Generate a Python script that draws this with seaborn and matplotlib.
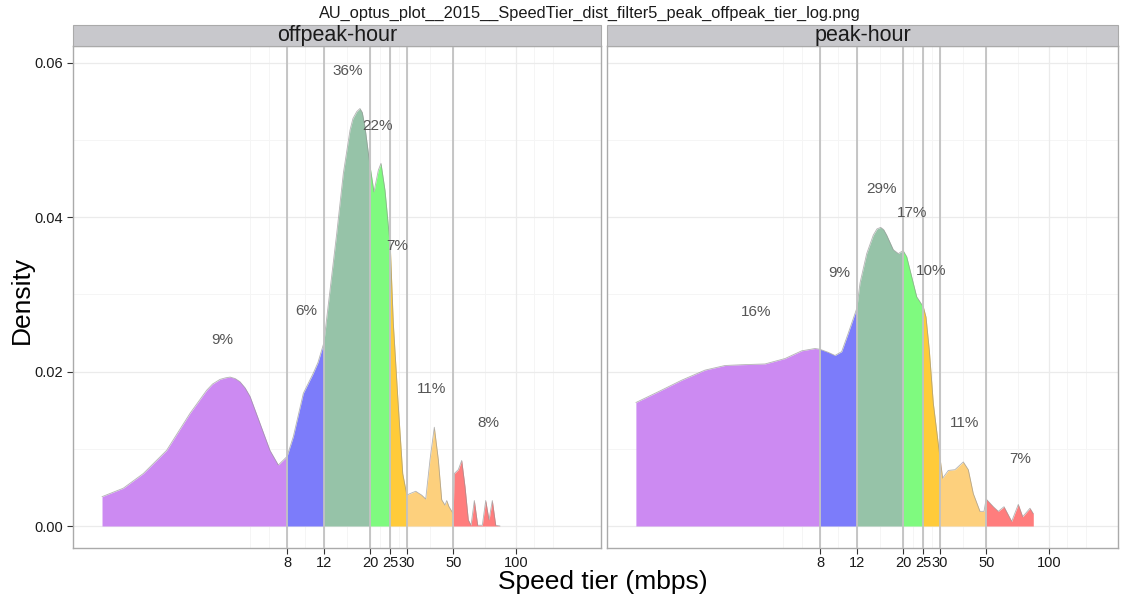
import numpy as np
import pandas as pd
import seaborn as sns
import matplotlib
matplotlib.use("Agg")
import matplotlib.pyplot as plt
from matplotlib.patches import Rectangle
from matplotlib.ticker import NullLocator, FixedLocator, FixedFormatter

# ---- data -------------------------------------------------------------
facets = ["offpeak-hour", "peak-hour"]
tier_edges = [8, 12, 20, 25, 30, 50]
tier_colors = ["#CC8AF2", "#7C7CFA", "#96C3A8", "#7FFA7F",
               "#FFCB3A", "#FDD07D", "#FF7D7D"]
tick_values = [8, 12, 20, 25, 30, 50, 100]
tick_labels = ["8", "12", "20", "25", "30", "50", "100"]

offpeak_speed = [1.04, 1.315, 1.64, 2.12, 2.745, 3.30, 3.52, 3.82, 4.06, 4.27,
                 4.52, 4.76, 5.04, 5.32, 5.94, 6.63, 7.27, 8.0, 8.58, 9.58,
                 10.69, 11.26, 12.0, 12.86, 13.84, 14.89, 16.03, 16.55, 17.26,
                 17.89, 18.35, 18.91, 20.0, 20.88, 21.90, 22.56, 23.58, 25.0,
                 25.84, 27.31, 28.67, 30.0, 31.07, 33.08, 35.34, 36.94, 38.73,
                 40.62, 42.45, 44.07, 45.70, 46.57, 47.76, 50.0, 50.64, 52.92,
                 54.95, 56.99, 59.10, 60.88, 63.15, 65.55, 68.97, 71.60, 74.26,
                 77.01, 79.96, 83.84]
offpeak_density = [0.0038, 0.0049, 0.0068, 0.0098, 0.0146, 0.0176, 0.0184,
                   0.0190, 0.0192, 0.0193, 0.0191, 0.0187, 0.0179, 0.0168,
                   0.0133, 0.0098, 0.0079, 0.0090, 0.0116, 0.0172, 0.0198,
                   0.0212, 0.0237, 0.0306, 0.0379, 0.0457, 0.0513, 0.0528,
                   0.0537, 0.0541, 0.0536, 0.0517, 0.0466, 0.0433, 0.0461,
                   0.0470, 0.0435, 0.0362, 0.0263, 0.0155, 0.0068, 0.0040,
                   0.0042, 0.0045, 0.0040, 0.0035, 0.0086, 0.0128, 0.0086,
                   0.0034, 0.0027, 0.0033, 0.0025, 0.0016, 0.0068, 0.0073,
                   0.0085, 0.0051, 0.0008, 0.0001, 0.0033, 0.0001, 0.0001,
                   0.0033, 0.0008, 0.0033, 0.0001, 0.0]

peak_speed = [1.05, 1.345, 1.741, 2.25, 2.806, 3.375, 4.363, 5.438, 6.537,
              7.571, 8.0, 8.767, 9.44, 10.16, 10.93, 12.0, 12.44, 13.39, 14.40,
              15.0, 15.62, 16.15, 16.69, 17.96, 18.98, 20.0, 20.82, 22.00,
              23.25, 25.0, 25.75, 26.71, 27.92, 30.0, 30.96, 32.93, 35.45,
              38.86, 41.06, 43.39, 46.71, 48.82, 50.0, 54.11, 57.17, 60.88,
              66.27, 71.27, 74.82, 81.08, 84.09]
peak_density = [0.0160, 0.0174, 0.0189, 0.0202, 0.0208, 0.0209, 0.0210,
                0.0217, 0.0227, 0.0230, 0.0229, 0.0225, 0.0221, 0.0226,
                0.0250, 0.0282, 0.0315, 0.0353, 0.0377, 0.0385, 0.0387,
                0.0384, 0.0377, 0.0358, 0.0353, 0.0357, 0.0349, 0.0323,
                0.0297, 0.0284, 0.0271, 0.0228, 0.0159, 0.0090, 0.0062,
                0.0072, 0.0073, 0.0083, 0.0073, 0.0042, 0.0019, 0.0019,
                0.0035, 0.0025, 0.0019, 0.0025, 0.0006, 0.0028, 0.0012,
                0.0023, 0.0016]

offpeak_share = [9, 6, 36, 22, 7, 11, 8]
offpeak_label_x = [3.91, 9.86, 15.7, 21.8, 26.9, 39.6, 73.4]
offpeak_label_y = [0.0241, 0.0279, 0.0590, 0.0518, 0.0363, 0.0178, 0.0133]

peak_share = [16, 9, 29, 17, 10, 11, 7]
peak_label_x = [3.95, 9.86, 15.7, 22.1, 27.2, 39.2, 72.6]
peak_label_y = [0.0277, 0.0328, 0.0437, 0.0406, 0.0330, 0.0133, 0.0087]

title = "AU_optus_plot__2015__SpeedTier_dist_filter5_peak_offpeak_tier_log.png"

df = pd.concat([
    pd.DataFrame({"period": facets[0], "speed": offpeak_speed, "density": offpeak_density}),
    pd.DataFrame({"period": facets[1], "speed": peak_speed, "density": peak_density}),
], ignore_index=True)
labels = {
    facets[0]: (offpeak_share, offpeak_label_x, offpeak_label_y),
    facets[1]: (peak_share, peak_label_x, peak_label_y),
}

# ---- style ------------------------------------------------------------
sns.set_theme(style="white")
plt.rcParams["font.family"] = ["Liberation Sans", "DejaVu Sans"]

W, H = 1124, 600
fig = plt.figure(figsize=(W / 100, H / 100), dpi=100)

# panel geometry in pixels: (left, right), shared top/bottom
panel_px = {facets[0]: (73, 601), facets[1]: (607, 1118)}
tick8_px = {facets[0]: 287, facets[1]: 820}
px_per_decade = 208.77
top_px, bot_px, strip_top_px = 46, 548, 25
y_zero_px, px_per_unit = 526, 7716.7

grid_major = "#EBEBEB"
grid_minor = "#F5F5F5"

# minor break positions between the major ticks, in log space
lb = np.log10(tick_values)
bd = lb[1] - lb[0]
ext = np.concatenate([[lb[0] - bd], lb, [lb[-1] + bd]])
minor_log = np.concatenate([(ext[:-1] + ext[1:]) / 2, ext])

bounds = [0] + tier_edges + [1e6]

for i, name in enumerate(facets):
    l, r = panel_px[name]
    ax = fig.add_axes([l / W, 1 - bot_px / H, (r - l) / W, (bot_px - top_px) / H])
    ax.set_xscale("log")
    x0 = 10 ** (np.log10(8) + (l - tick8_px[name]) / px_per_decade)
    x1 = 10 ** (np.log10(8) + (r - tick8_px[name]) / px_per_decade)
    ax.set_xlim(x0, x1)
    ax.set_ylim((y_zero_px - bot_px) / px_per_unit, (y_zero_px - top_px) / px_per_unit)

    # grid
    for v in 10 ** minor_log:
        ax.axvline(v, color=grid_minor, lw=0.7, zorder=0.4)
    for v in tick_values:
        ax.axvline(v, color=grid_major, lw=0.9, zorder=0.5)
    for v in [0.01, 0.03, 0.05]:
        ax.axhline(v, color=grid_minor, lw=0.7, zorder=0.4)
    for v in [0.0, 0.02, 0.04, 0.06]:
        ax.axhline(v, color=grid_major, lw=0.9, zorder=0.5)

    sub = df[df["period"] == name]
    xs = sub["speed"].to_numpy()
    ys = sub["density"].to_numpy()
    for k in range(len(tier_colors)):
        lo, hi = bounds[k], bounds[k + 1]
        m = (xs >= lo) & (xs <= hi)
        ax.fill_between(xs[m], 0, ys[m], color=tier_colors[k], lw=0, zorder=2)

    sns.lineplot(data=sub, x="speed", y="density", ax=ax, color="#939393",
                 lw=0.6, alpha=0.7, estimator=None, sort=False, zorder=3)

    for e in tier_edges:
        ax.axvline(e, color="#C2C2C2", lw=1.3, zorder=4)

    share, lx, ly = labels[name]
    for s, x, y in zip(share, lx, ly):
        ax.text(x, y, f"{s}%", ha="center", va="center", fontsize=11,
                color="#555555", zorder=5)

    ax.xaxis.set_major_locator(FixedLocator(tick_values))
    ax.xaxis.set_major_formatter(FixedFormatter(tick_labels))
    ax.xaxis.set_minor_locator(NullLocator())
    ax.tick_params(axis="x", length=4, width=0.8, color="#333333",
                   labelsize=10.5, pad=2, labelcolor="#1A1A1A", bottom=True)
    if i == 0:
        ax.set_yticks([0.0, 0.02, 0.04, 0.06])
        ax.set_yticklabels(["0.00", "0.02", "0.04", "0.06"])
        ax.tick_params(axis="y", length=4, width=0.8, color="#333333",
                       labelsize=10.5, pad=3, labelcolor="#1A1A1A", left=True)
    else:
        ax.set_yticks([0.0, 0.02, 0.04, 0.06])
        ax.tick_params(axis="y", left=False, labelleft=False)
    ax.set_xlabel("")
    ax.set_ylabel("")
    for sp in ax.spines.values():
        sp.set_color("#AAAAAA")
        sp.set_linewidth(1.0)

    # facet strip
    fig.patches.append(Rectangle((l / W, 1 - top_px / H), (r - l) / W,
                                 (top_px - strip_top_px) / H,
                                 transform=fig.transFigure, facecolor="#C8C8CC",
                                 edgecolor="#AAAAAA", lw=0.8, zorder=1))
    fig.text((l + r) / 2 / W, 1 - (top_px + strip_top_px) / 2 / H, name,
             ha="center", va="center", fontsize=15.5, color="#1A1A1A")

fig.text(590 / W, 1 - 13 / H, title, ha="center", va="center", fontsize=11.8,
         color="#1A1A1A")
fig.text(603 / W, 1 - 582 / H, "Speed tier (mbps)", ha="center", va="center",
         fontsize=19, color="#000000")
fig.text(22 / W, 1 - 300 / H, "Density", ha="center", va="center",
         fontsize=19, rotation=90, color="#000000")

fig.savefig("out.png", dpi=100)
